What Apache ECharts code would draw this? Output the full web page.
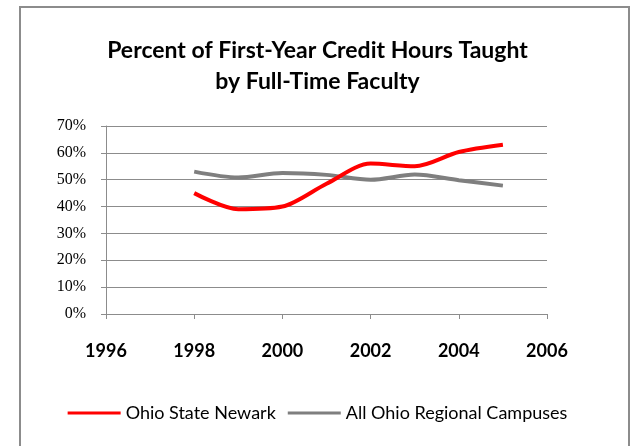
<!DOCTYPE html>
<html>
<head>
<meta charset="utf-8">
<script src="https://cdn.jsdelivr.net/npm/echarts@6/dist/echarts.min.js"></script>
<style>
  html, body { margin: 0; padding: 0; background: #fff; }
  #frame { position: absolute; left: 19px; top: 6px; width: 611px; height: 460px; border: 2px solid #8c8c8c; border-bottom: none; box-sizing: border-box; }
  #chart { position: absolute; left: 0; top: 0; width: 635px; height: 446px; }
</style>
</head>
<body>
<div id="frame"></div>
<div id="chart"></div>
<script>
const years = [1998, 1999, 2000, 2001, 2002, 2003, 2004, 2005];
const newark = [45, 39, 40, 48.5, 56, 55, 60.3, 63];
const regional = [53, 50.8, 52.5, 51.8, 50, 51.9, 49.8, 47.8];
const seriesNames = ['Ohio State Newark', 'All Ohio Regional Campuses'];

const chart = echarts.init(document.getElementById('chart'));

function pairs(vals) {
    return years.map((y, i) => [y, vals[i]]);
}

const option = {
    animation: false,
    title: {
        text: 'Percent of First-Year Credit Hours Taught\nby Full-Time Faculty',
        left: 'center',
        top: 30,
        textStyle: {
            fontFamily: 'Lato',
            fontWeight: 'bold',
            fontSize: 23,
            lineHeight: 31,
            color: '#000'
        }
    },
    legend: {
        bottom: 19,
        left: 'center',
        itemWidth: 53,
        itemHeight: 3,
        itemGap: 12,
        icon: 'rect',
        textStyle: { fontFamily: 'Lato', fontSize: 18, color: '#000' },
        data: seriesNames
    },
    grid: { left: 106, right: 88, top: 126, bottom: 132 },
    xAxis: {
        type: 'value',
        min: 1996,
        max: 2006,
        interval: 2,
        axisLine: { lineStyle: { color: '#8c8c8c', width: 1 } },
        axisTick: { show: true, length: 5, lineStyle: { color: '#8c8c8c' } },
        splitLine: { show: false },
        axisLabel: {
            margin: 28,
            formatter: v => String(v),
            fontFamily: 'Lato',
            fontWeight: 'bold',
            fontSize: 18,
            color: '#000'
        }
    },
    yAxis: {
        type: 'value',
        min: 0,
        max: 70,
        interval: 10,
        axisLine: { show: true, lineStyle: { color: '#8c8c8c', width: 1 } },
        axisTick: { show: true, length: 5, lineStyle: { color: '#8c8c8c' } },
        splitLine: { lineStyle: { color: '#8c8c8c', width: 1 } },
        axisLabel: {
            margin: 20,
            formatter: '{value}%',
            fontFamily: 'Liberation Serif',
            fontSize: 16,
            color: '#000'
        }
    },
    series: [
        {
            name: seriesNames[0],
            type: 'line',
            data: pairs(newark),
            smooth: 0.3,
            symbol: 'none',
            z: 3,
            color: '#ff0000',
            lineStyle: { color: '#ff0000', width: 4 }
        },
        {
            name: seriesNames[1],
            type: 'line',
            data: pairs(regional),
            smooth: 0.3,
            symbol: 'none',
            z: 2,
            color: '#7f7f7f',
            lineStyle: { color: '#7f7f7f', width: 4 }
        }
    ]
};

chart.setOption(option);
</script>
</body>
</html>
